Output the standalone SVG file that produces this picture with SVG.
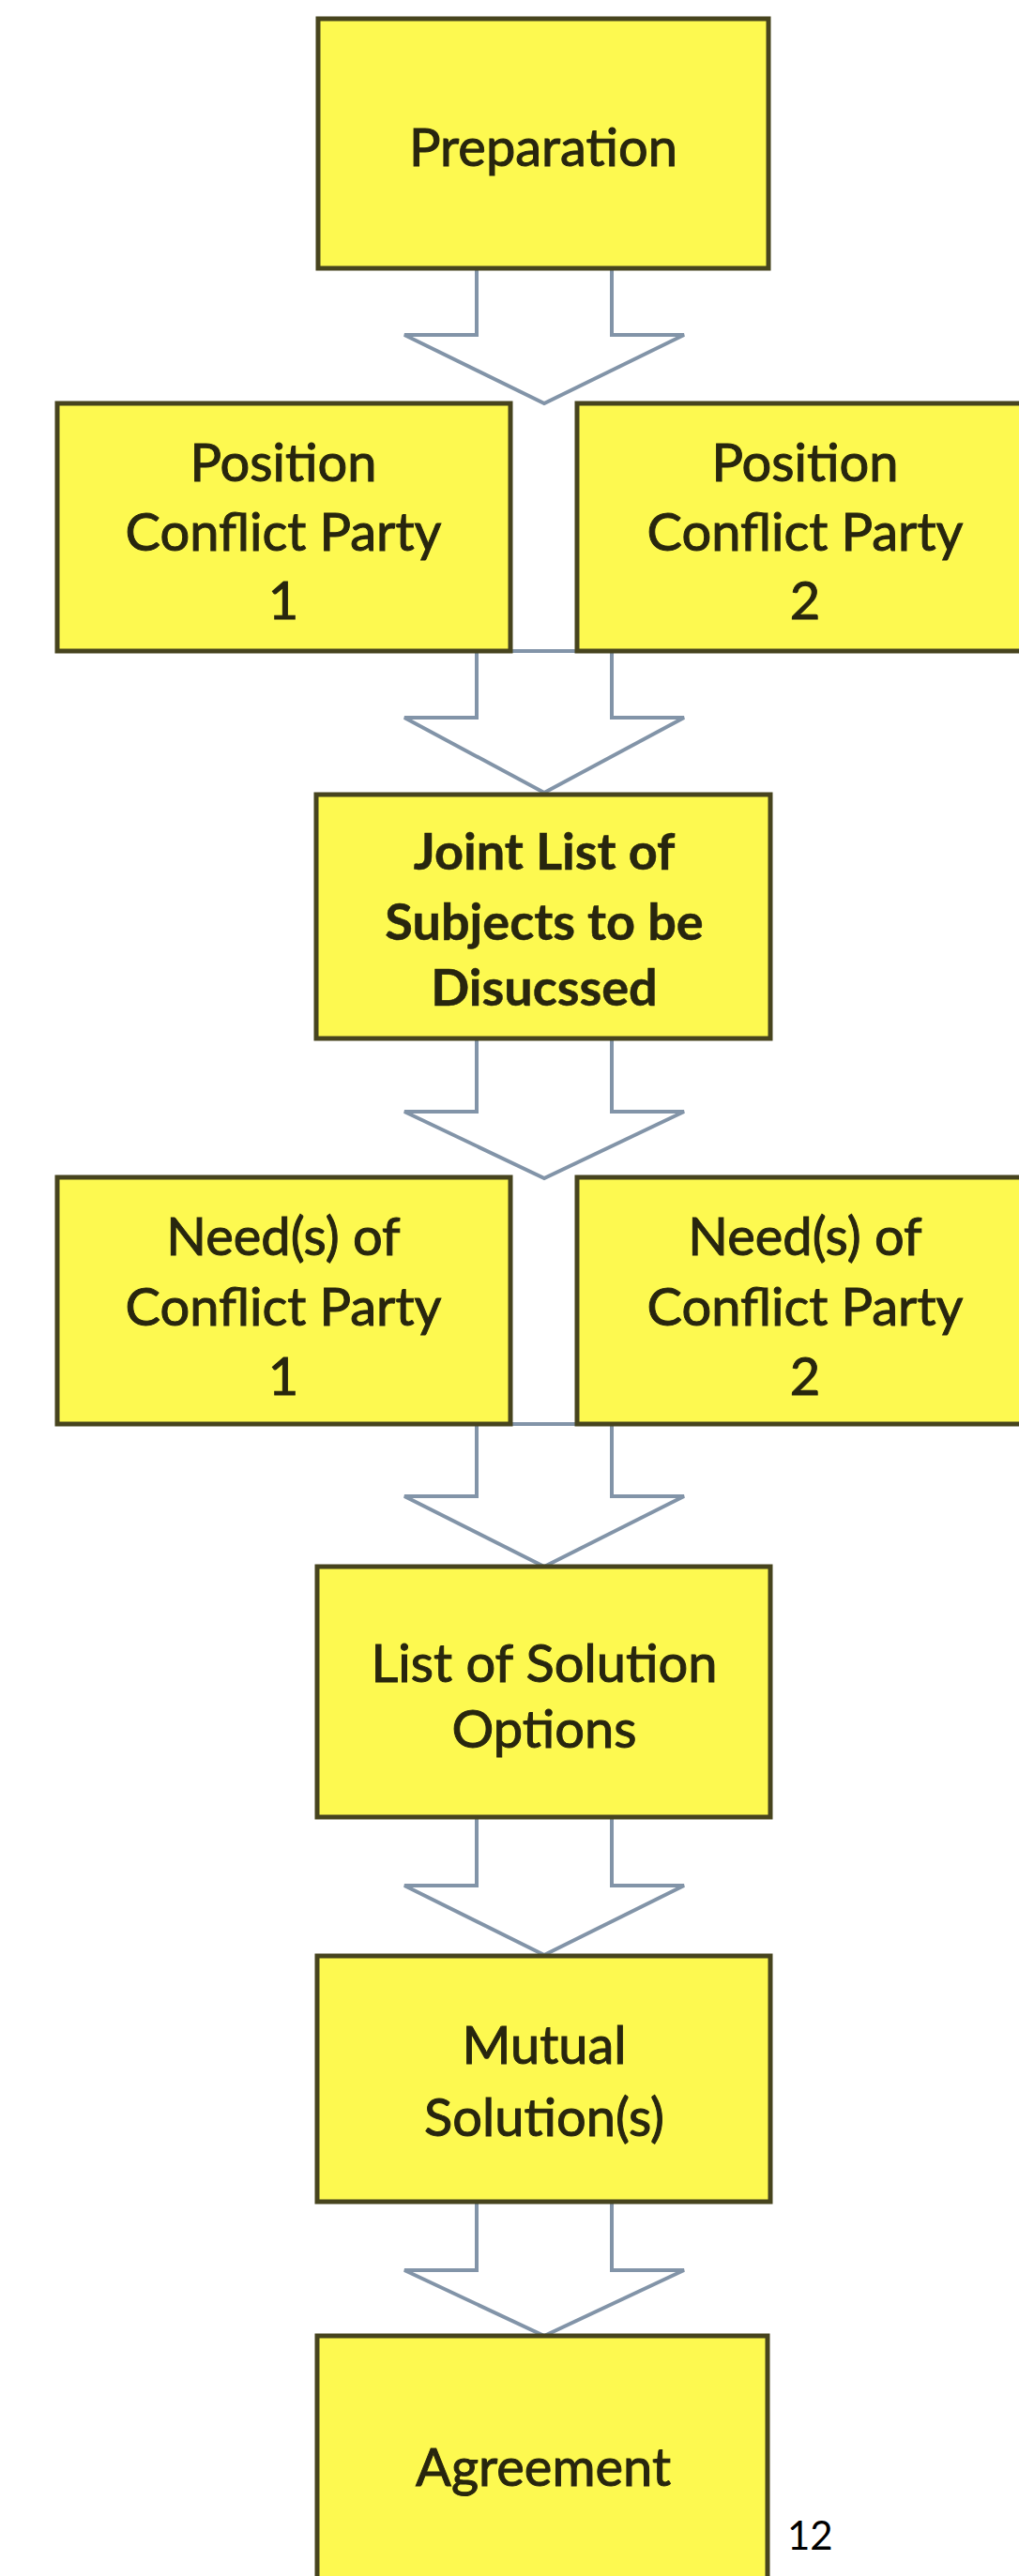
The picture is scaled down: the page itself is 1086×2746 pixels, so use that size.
<svg xmlns="http://www.w3.org/2000/svg" width="1086" height="2746" viewBox="0 0 1086 2746">
<style>
.box{fill:#fdf950;stroke:#47441e;stroke-width:5}
.lbl{font-family:Lato,"Liberation Sans",sans-serif;font-size:56px;fill:#28260e;stroke:#28260e;stroke-width:1;text-anchor:middle}
.bold{font-weight:bold;font-size:54px;stroke-width:0.5}
.arrow{fill:#ffffff;stroke:#8294a8;stroke-width:4;stroke-linejoin:miter}
.page{font-family:Lato,"Liberation Sans",sans-serif;font-size:42px;fill:#000000}
</style>
<rect width="1086" height="2746" fill="#ffffff"/>
<g id="connectors">
<polygon class="arrow" points="508,286 652,286 652,357 729,357 580,430 431,357 508,357"/>
<polygon class="arrow" points="508,694 652,694 652,765 729,765 580,845 431,765 508,765"/>
<polygon class="arrow" points="508,1107 652,1107 652,1185 729,1185 580,1256 431,1185 508,1185"/>
<polygon class="arrow" points="508,1518 652,1518 652,1595 729,1595 580,1670 431,1595 508,1595"/>
<polygon class="arrow" points="508,1937 652,1937 652,2010 729,2010 580,2084 431,2010 508,2010"/>
<polygon class="arrow" points="508,2347 652,2347 652,2420 729,2420 580,2490 431,2420 508,2420"/>
</g>
<g id="preparation">
<rect class="box" x="339" y="20" width="480" height="266"/>
<text class="lbl" x="579" y="177">Preparation</text>
</g>
<g id="position1">
<rect class="box" x="61" y="430" width="483" height="264"/>
<text class="lbl" x="302" y="513">Position</text>
<text class="lbl" x="302" y="587">Conflict Party</text>
<text class="lbl" x="302" y="660">1</text>
</g>
<g id="position2">
<rect class="box" x="615" y="430" width="486" height="264"/>
<text class="lbl" x="858" y="513">Position</text>
<text class="lbl" x="858" y="587">Conflict Party</text>
<text class="lbl" x="858" y="660">2</text>
</g>
<g id="joint-list">
<rect class="box" x="337" y="847" width="484" height="260"/>
<text class="lbl bold" x="580" y="927">Joint List of</text>
<text class="lbl bold" x="580" y="1002">Subjects to be</text>
<text class="lbl bold" x="580" y="1072">Disucssed</text>
</g>
<g id="needs1">
<rect class="box" x="61" y="1255" width="483" height="263"/>
<text class="lbl" x="302" y="1338">Need(s) of</text>
<text class="lbl" x="302" y="1413">Conflict Party</text>
<text class="lbl" x="302" y="1487">1</text>
</g>
<g id="needs2">
<rect class="box" x="615" y="1255" width="486" height="263"/>
<text class="lbl" x="858" y="1338">Need(s) of</text>
<text class="lbl" x="858" y="1413">Conflict Party</text>
<text class="lbl" x="858" y="1487">2</text>
</g>
<g id="solution-options">
<rect class="box" x="338" y="1670" width="483" height="267"/>
<text class="lbl" x="580" y="1793">List of Solution</text>
<text class="lbl" x="580" y="1863">Options</text>
</g>
<g id="mutual-solutions">
<rect class="box" x="338" y="2085" width="483" height="262"/>
<text class="lbl" x="580" y="2200">Mutual</text>
<text class="lbl" x="580" y="2277">Solution(s)</text>
</g>
<g id="agreement">
<rect class="box" x="338" y="2490" width="480" height="280"/>
<text class="lbl" x="579" y="2650">Agreement</text>
</g>
<text class="page" x="839" y="2718">12</text>
</svg>
